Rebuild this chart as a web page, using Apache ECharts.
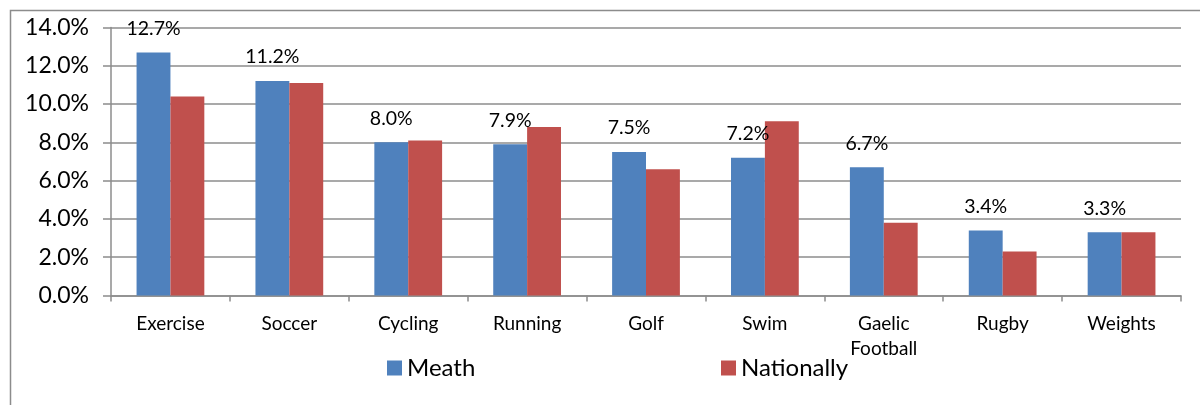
<!DOCTYPE html>
<html>
<head>
<meta charset="utf-8">
<title>Sport participation: Meath vs Nationally</title>
<script src="https://cdn.jsdelivr.net/npm/echarts@6/dist/echarts.min.js"></script>
<style>
  html, body { margin: 0; padding: 0; background: #ffffff; }
  #chart { width: 1200px; height: 405px; }
</style>
</head>
<body>
<div id="chart"></div>
<script>
// Share of people taking part in each sport (%)
const categories = ['Exercise', 'Soccer', 'Cycling', 'Running', 'Golf', 'Swim', 'Gaelic\nFootball', 'Rugby', 'Weights'];
const meath = [12.7, 11.2, 8.0, 7.9, 7.5, 7.2, 6.7, 3.4, 3.3];
const nationally = [10.4, 11.1, 8.1, 8.8, 6.6, 9.1, 3.8, 2.3, 3.3];
const yTicks = { min: 0, max: 14, interval: 2 };

const FONT = 'Lato, "Open Sans", sans-serif';
const GRID_GREY = '#8c8c8c';

const chart = echarts.init(document.getElementById('chart'), null, { renderer: 'canvas' });

chart.setOption({
  animation: false,
  backgroundColor: '#ffffff',
  textStyle: { fontFamily: FONT, color: '#000000' },
  graphic: [{
    // chart frame
    type: 'rect',
    left: 8, top: 8,
    shape: { width: 1300, height: 500 },
    style: { fill: 'none', stroke: '#8c8c8c', lineWidth: 1.5 },
    silent: true
  }],
  legend: [
    {
      data: ['Meath'],
      left: 382, top: 351,
      itemWidth: 15, itemHeight: 15,
      icon: 'rect',
      textStyle: { fontFamily: FONT, fontSize: 24, color: '#000000' }
    },
    {
      data: ['Nationally'],
      left: 716, top: 351,
      itemWidth: 15, itemHeight: 15,
      icon: 'rect',
      textStyle: { fontFamily: FONT, fontSize: 24, color: '#000000' }
    }
  ],
  grid: { left: 111, right: 19, top: 27.5, bottom: 109.5, containLabel: false },
  xAxis: {
    type: 'category',
    data: categories,
    boundaryGap: true,
    axisLine: { show: true, lineStyle: { color: GRID_GREY, width: 1.5 } },
    axisTick: { show: true, alignWithLabel: false, length: 6, lineStyle: { color: GRID_GREY, width: 1.5 } },
    axisLabel: {
      interval: 0,
      margin: 16,
      fontFamily: FONT,
      fontSize: 19,
      lineHeight: 25,
      color: '#000000'
    },
    splitLine: { show: false }
  },
  yAxis: {
    type: 'value',
    min: yTicks.min,
    max: yTicks.max,
    interval: yTicks.interval,
    axisLine: { show: true, lineStyle: { color: GRID_GREY, width: 1.5 } },
    axisTick: { show: true, length: 8, lineStyle: { color: GRID_GREY, width: 1.5 } },
    axisLabel: {
      margin: 22,
      fontFamily: FONT,
      fontSize: 23,
      color: '#000000',
      formatter: v => v.toFixed(1) + '%'
    },
    splitLine: { show: true, lineStyle: { color: GRID_GREY, width: 1.5 } }
  },
  series: [
    {
      name: 'Meath',
      type: 'bar',
      data: meath,
      barGap: '0%',
      barCategoryGap: '43%',
      itemStyle: { color: '#4f81bd' },
      label: {
        show: true,
        position: 'top',
        distance: 14,
        fontFamily: FONT,
        fontSize: 19.5,
        color: '#000000',
        formatter: p => p.value.toFixed(1) + '%'
      }
    },
    {
      name: 'Nationally',
      type: 'bar',
      data: nationally,
      barGap: '0%',
      barCategoryGap: '43%',
      itemStyle: { color: '#c0504d' }
    }
  ]
});
</script>
</body>
</html>
